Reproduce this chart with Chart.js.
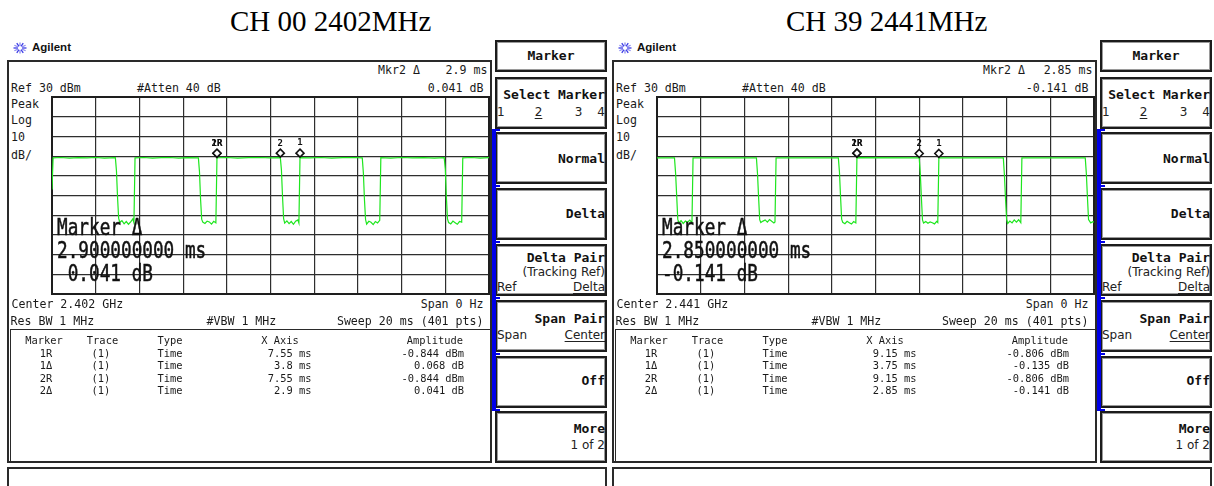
<!DOCTYPE html>
<html>
<head>
<meta charset="utf-8">
<script src="https://cdn.jsdelivr.net/npm/chart.js@4/dist/chart.umd.min.js"></script>
<style>
  html, body { margin: 0; padding: 0; background: #fff; }
  body { width: 1214px; height: 486px; position: relative; overflow: hidden; }
  .abs { position: absolute; white-space: pre; }
  .panel { position: absolute; top: 0; width: 607px; height: 486px; }
  .box { position: absolute; box-sizing: border-box; border: 2px solid #2a2a2a; background: transparent; }
  .key { position: absolute; box-sizing: border-box; border: 2px solid #1c1c1c; background: #fff;
         box-shadow: inset 1px 1px 0 #9a9a9a, inset -1px -1px 0 #9a9a9a; }
  .blue { position: absolute; background: #0000e8; }
</style>
</head>
<body>
<script>
// Zero-span sweep traces, 0..20 ms, level in dBm
const ch00Time = [
  0.00, 0.05, 0.40, 0.80, 1.20, 1.60, 2.00, 2.40, 2.90,
  2.95, 3.00, 3.05, 3.10, 3.20, 3.30, 3.40, 3.50, 3.60, 3.70, 3.75, 3.80,
  4.20, 4.60, 5.00, 5.40, 5.80, 6.20, 6.70,
  6.75, 6.80, 6.85, 6.90, 7.00, 7.10, 7.20, 7.30, 7.40, 7.50, 7.55,
  8.00, 8.50, 9.00, 9.50, 10.00, 10.45,
  10.50, 10.55, 10.60, 10.65, 10.75, 10.85, 10.95, 11.05, 11.15, 11.25, 11.30, 11.35,
  11.80, 12.30, 12.80, 13.30, 13.80, 14.20,
  14.25, 14.30, 14.35, 14.40, 14.50, 14.60, 14.70, 14.80, 14.90, 15.00, 15.05,
  15.50, 16.00, 16.50, 17.00, 17.50, 17.95,
  18.00, 18.05, 18.10, 18.15, 18.25, 18.35, 18.45, 18.55, 18.65, 18.75, 18.80,
  19.20, 19.60, 20.00
];
const ch00Level = [
  -17.0, -0.9, -0.7, -1.0, -0.8, -0.9, -0.7, -1.0, -0.8,
  -7.5, -21.0, -31.5, -33.6, -32.8, -34.4, -33.2, -34.6, -33.4, -31.9, -33.8, -0.9,
  -0.7, -1.0, -0.8, -0.7, -1.0, -0.8, -0.9,
  -8.0, -22.0, -32.0, -33.5, -34.2, -33.0, -33.4, -34.5, -33.1, -33.9, -0.844,
  -0.7, -1.0, -0.8, -0.7, -0.9, -0.803,
  -7.0, -20.5, -31.8, -34.0, -32.9, -34.3, -33.2, -34.6, -33.0, -32.4, -34.0, -0.776,
  -0.9, -0.7, -1.0, -0.8, -0.7, -0.9,
  -8.5, -22.0, -32.2, -34.5, -33.1, -33.6, -34.8, -33.2, -33.9, -32.6, -0.8,
  -1.0, -0.7, -0.9, -0.8, -1.0, -0.8,
  -6.5, -21.0, -31.9, -33.7, -34.4, -33.0, -33.8, -34.6, -33.2, -33.5, -0.9,
  -0.7, -1.0, -0.8
];

const ch39Time = [
  0.00, 0.80,
  0.85, 0.90, 0.95, 1.00, 1.10, 1.20, 1.30, 1.40, 1.50, 1.60, 1.65,
  4.55,
  4.60, 4.65, 4.70, 4.75, 4.85, 4.95, 5.05, 5.15, 5.25, 5.35, 5.40, 5.45,
  8.30,
  8.35, 8.40, 8.45, 8.50, 8.60, 8.70, 8.80, 8.90, 9.00, 9.10, 9.15,
  12.00,
  12.05, 12.10, 12.15, 12.20, 12.30, 12.40, 12.50, 12.60, 12.70, 12.80, 12.85, 12.90,
  15.85,
  15.90, 15.95, 16.00, 16.05, 16.15, 16.25, 16.35, 16.45, 16.55, 16.65, 16.70,
  19.60,
  19.65, 19.70, 19.75, 19.85, 19.95, 20.00
];
const ch39Level = [
  -0.9, -0.9,
  -8.5, -20.0, -32.0, -33.9, -32.8, -34.2, -33.0, -33.6, -32.5, -33.8, -0.9,
  -0.9,
  -9.0, -21.0, -32.3, -33.7, -33.0, -32.4, -33.5, -32.2, -33.1, -33.9, -33.4, -0.9,
  -0.9,
  -8.0, -20.5, -32.0, -33.6, -34.3, -33.1, -33.8, -34.5, -33.2, -33.9, -0.806,
  -0.947,
  -8.8, -21.0, -32.4, -34.0, -33.2, -34.1, -33.4, -33.8, -34.4, -33.1, -33.7, -0.941,
  -0.9,
  -9.5, -21.5, -32.0, -34.2, -33.0, -33.9, -32.4, -33.5, -32.3, -33.8, -0.9,
  -0.9,
  -9.0, -21.0, -32.2, -33.9, -33.3, -33.6
];

// Marker table rows: 1R, 1Δ, 2R, 2Δ (X in ms, amplitude in dBm / dB)
const markerNames = ['1R', '1Δ', '2R', '2Δ'];
const markerRefOf = [-1, 0, -1, 2];
const ch00MarkerX = [7.55, 3.8, 7.55, 2.9];
const ch00MarkerAmp = [-0.844, 0.068, -0.844, 0.041];
const ch39MarkerX = [9.15, 3.75, 9.15, 2.85];
const ch39MarkerAmp = [-0.806, -0.135, -0.806, -0.141];

const titles = ['CH 00 2402MHz', 'CH 39 2441MHz'];
const centerFreqs = ['2.402 GHz', '2.441 GHz'];

// Axis settings of the analyser screen
const sweepMs = [0, 20];
const timeStep = 2;
const refLevel = 30;
const dbPerDiv = 10;
const divisions = 10;

const TRACE = '#1ee61e';
const MONO = '"DejaVu Sans Mono", monospace';
const SANS = '"DejaVu Sans", sans-serif';
const PW = 607;

function txt(parent, s, x, cy, o) {
  o = o || {};
  const d = document.createElement('div');
  d.className = 'abs';
  d.textContent = s;
  const size = o.size || 11.6;
  const lh = Math.round(size * 1.3);
  d.style.font = (o.weight || 'normal') + ' ' + size + 'px ' + (o.family || MONO);
  d.style.lineHeight = lh + 'px';
  d.style.top = (cy - lh / 2) + 'px';
  d.style.color = o.color || '#1a1a1a';
  if (o.stroke) d.style.webkitTextStroke = o.stroke + 'px ' + (o.color || '#1a1a1a');
  const align = o.align || 'left';
  let tr = '';
  if (align === 'left') { d.style.left = x + 'px'; d.style.transformOrigin = 'left center'; }
  else if (align === 'right') { d.style.right = ((o.pw || PW) - x) + 'px'; d.style.transformOrigin = 'right center'; }
  else { d.style.left = x + 'px'; tr = 'translateX(-50%) '; d.style.transformOrigin = 'center'; }
  if (o.sx) tr += 'scaleX(' + o.sx + ')';
  if (tr) d.style.transform = tr;
  if (o.underline) { d.style.textDecoration = 'underline'; d.style.textUnderlineOffset = '2px'; }
  parent.appendChild(d);
  return d;
}

function rect(parent, cls, x, y, w, h) {
  const d = document.createElement('div');
  d.className = cls;
  d.style.left = x + 'px'; d.style.top = y + 'px';
  d.style.width = w + 'px'; d.style.height = h + 'px';
  parent.appendChild(d);
  return d;
}

function logo(parent, cx, cy) {
  const ns = 'http://www.w3.org/2000/svg';
  const svg = document.createElementNS(ns, 'svg');
  svg.setAttribute('width', 18); svg.setAttribute('height', 14);
  svg.style.position = 'absolute';
  svg.style.left = (cx - 9) + 'px'; svg.style.top = (cy - 7) + 'px';
  for (let k = 0; k < 12; k++) {
    const a = k * Math.PI / 6;
    const l = document.createElementNS(ns, 'line');
    l.setAttribute('x1', 9 + Math.cos(a) * 2); l.setAttribute('y1', 7 + Math.sin(a) * 2);
    l.setAttribute('x2', 9 + Math.cos(a) * 6.5); l.setAttribute('y2', 7 + Math.sin(a) * 5.5);
    l.setAttribute('stroke', k % 2 ? '#8c8cf0' : '#3c3ce6');
    l.setAttribute('stroke-width', 1.3);
    svg.appendChild(l);
  }
  parent.appendChild(svg);
}

const fmtAmp = (v, isRef) => (v < 0 ? '-' : '') + Math.abs(v).toFixed(3) + (isRef ? ' dBm' : ' dB');

// Draws the marker diamonds with their labels above the trace
const markerPlugin = {
  id: 'markers',
  afterDatasetsDraw(chart, args, opts) {
    const { ctx, scales } = chart;
    ctx.save();
    opts.times.forEach((t, i) => {
      const x = scales.x.getPixelForValue(t);
      const y = scales.y.getPixelForValue(opts.levels[i]) - 4.5;
      ctx.beginPath();
      ctx.moveTo(x, y - 4); ctx.lineTo(x + 4, y); ctx.lineTo(x, y + 4); ctx.lineTo(x - 4, y);
      ctx.closePath();
      ctx.fillStyle = '#fff'; ctx.fill();
      ctx.lineWidth = 1.6; ctx.strokeStyle = '#111'; ctx.stroke();
      ctx.fillStyle = '#111';
      ctx.font = 'bold 9px ' + MONO;
      ctx.textAlign = 'center'; ctx.textBaseline = 'middle';
      ctx.fillText(opts.tags[i], x, y - 10);
    });
    ctx.restore();
  }
};

// Heavier outline around the graticule
const framePlugin = {
  id: 'frame',
  beforeDatasetsDraw(chart) {
    const { ctx, chartArea: a } = chart;
    ctx.save();
    ctx.lineWidth = 2; ctx.strokeStyle = '#1e1e1e';
    ctx.strokeRect(a.left, a.top, a.right - a.left, a.bottom - a.top);
    ctx.restore();
  }
};

function buildPanel(idx, offsetX, times, levels, mX, mAmp) {
  const p = document.createElement('div');
  p.className = 'panel';
  p.style.left = offsetX + 'px';
  document.body.appendChild(p);

  logo(p, 19.5, 47.5);
  txt(p, 'Agilent', 32, 47.5, { family: '"Liberation Sans", Arial, sans-serif', weight: 'bold', size: 11.5, color: '#111' });

  // screen frame
  rect(p, 'box', 7, 60, 485, 403);

  // active marker readout
  const act = 3;
  txt(p, 'Mkr2 Δ', 378, 70);
  txt(p, mX[act] + ' ms', 487.5, 70, { align: 'right' });
  txt(p, fmtAmp(mAmp[act], false), 483.5, 88, { align: 'right' });

  txt(p, 'Ref ' + refLevel + ' dBm', 11, 88);
  txt(p, '#Atten 40 dB', 137, 88);
  txt(p, 'Peak', 11, 104);
  txt(p, 'Log', 11, 120.5);
  txt(p, String(dbPerDiv), 11, 137.5);
  txt(p, 'dB/', 11, 155);

  // graticule + trace
  const wrap = document.createElement('div');
  wrap.style.cssText = 'position:absolute;left:51px;top:96px;width:439px;height:199px;';
  const cv = document.createElement('canvas');
  cv.width = 439; cv.height = 199;
  cv.style.width = '439px'; cv.style.height = '199px';
  wrap.appendChild(cv);
  p.appendChild(wrap);

  const mkTimes = [], mkLevels = [], mkTags = [];
  markerNames.forEach((n, i) => {
    const r = markerRefOf[i];
    if (r < 0) { mkTimes.push(mX[i]); mkLevels.push(mAmp[i]); mkTags.push(n); }
    else { mkTimes.push(mX[r] + mX[i]); mkLevels.push(mAmp[r] + mAmp[i]); mkTags.push(n.replace('Δ', '')); }
  });

  const gridOpts = { color: '#2e2e2e', lineWidth: 1.2, drawTicks: false, tickLength: 0 };
  new Chart(cv.getContext('2d'), {
    type: 'line',
    data: {
      datasets: [{
        data: times.map((t, i) => ({ x: t, y: levels[i] })),
        borderColor: TRACE, borderWidth: 1.2, pointRadius: 0, tension: 0, fill: false
      }]
    },
    options: {
      responsive: false, animation: false, devicePixelRatio: 1,
      layout: { padding: 1 },
      plugins: {
        legend: { display: false }, tooltip: { enabled: false },
        markers: { times: mkTimes, levels: mkLevels, tags: mkTags }
      },
      scales: {
        x: { type: 'linear', min: sweepMs[0], max: sweepMs[1],
             ticks: { display: false, stepSize: timeStep }, grid: gridOpts, border: { display: false } },
        y: { type: 'linear', min: refLevel - dbPerDiv * divisions, max: refLevel,
             ticks: { display: false, stepSize: dbPerDiv }, grid: gridOpts, border: { display: false } }
      }
    },
    plugins: [framePlugin, markerPlugin]
  });

  // large delta readout over the graticule
  const big = { size: 23, sx: 0.77, color: '#111', stroke: 0.5 };
  txt(p, 'Marker Δ', 57, 226.5, big);
  txt(p, mX[act].toFixed(9) + ' ms', 57, 250, big);
  txt(p, (mAmp[act] < 0 ? '-' : ' ') + Math.abs(mAmp[act]).toFixed(3) + ' dB', 57, 272.5, big);

  // sweep settings
  txt(p, 'Center ' + centerFreqs[idx], 11.5, 304.5);
  txt(p, 'Span 0 Hz', 483.5, 304.5, { align: 'right' });
  txt(p, 'Res BW 1 MHz', 10.5, 321);
  txt(p, '#VBW 1 MHz', 206.5, 321);
  txt(p, 'Sweep 20 ms (401 pts)', 483.5, 321, { align: 'right' });

  // marker table
  rect(p, 'box', 10, 329, 481, 134).style.borderWidth = '1.5px';
  const tf = { size: 10.4 };
  txt(p, 'Marker', 44, 340, Object.assign({ align: 'center' }, tf));
  txt(p, 'Trace', 102.5, 340, Object.assign({ align: 'center' }, tf));
  txt(p, 'Type', 170, 340, Object.assign({ align: 'center' }, tf));
  txt(p, 'X Axis', 280, 340, Object.assign({ align: 'center' }, tf));
  txt(p, 'Amplitude', 463, 340, Object.assign({ align: 'right' }, tf));
  markerNames.forEach((n, i) => {
    const cy = 352.7 + 12.5 * i;
    txt(p, n, 46, cy, Object.assign({ align: 'center' }, tf));
    txt(p, '(1)', 101, cy, Object.assign({ align: 'center' }, tf));
    txt(p, 'Time', 170, cy, Object.assign({ align: 'center' }, tf));
    txt(p, mX[i] + ' ms', 311.5, cy, Object.assign({ align: 'right' }, tf));
    txt(p, fmtAmp(mAmp[i], markerRefOf[i] < 0), 464, cy, Object.assign({ align: 'right' }, tf));
  });

  // softkey menu
  const kb = { family: MONO, weight: 'bold', size: 13, color: '#111' };
  const kn = { family: SANS, size: 12, color: '#222' };
  rect(p, 'key', 495, 40, 112, 32);
  txt(p, 'Marker', 551, 55.5, Object.assign({ align: 'center' }, kb));
  const tops = [76.5, 132.3, 188.1, 243.9, 299.7, 355.5, 411.3];
  tops.forEach(t => rect(p, 'key', 495, t, 112, 52));
  rect(p, 'blue', 492, 129, 3.6, 281);
  [129, 185, 241, 297, 353, 408.5].forEach(y => rect(p, 'blue', 492, y, 8, 2));

  txt(p, 'Select Marker', 605, tops[0] + 18.3, Object.assign({ align: 'right' }, kb));
  txt(p, '1', 497, tops[0] + 35, kn);
  txt(p, '2', 538.5, tops[0] + 35, Object.assign({ align: 'center', underline: true }, kn));
  txt(p, '3', 578.5, tops[0] + 35, Object.assign({ align: 'center' }, kn));
  txt(p, '4', 605, tops[0] + 35, Object.assign({ align: 'right' }, kn));
  txt(p, 'Normal', 605, tops[1] + 26, Object.assign({ align: 'right' }, kb));
  txt(p, 'Delta', 605, tops[2] + 25.5, Object.assign({ align: 'right' }, kb));
  txt(p, 'Delta Pair', 605, tops[3] + 13.3, Object.assign({ align: 'right' }, kb));
  txt(p, '(Tracking Ref)', 605, tops[3] + 28.3, Object.assign({ align: 'right' }, kn));
  txt(p, 'Ref', 497, tops[3] + 43, kn);
  txt(p, 'Delta', 605, tops[3] + 43, Object.assign({ align: 'right', underline: true }, kn));
  txt(p, 'Span Pair', 605, tops[4] + 19, Object.assign({ align: 'right' }, kb));
  txt(p, 'Span', 497, tops[4] + 35.5, kn);
  txt(p, 'Center', 605, tops[4] + 35.5, Object.assign({ align: 'right', underline: true }, kn));
  txt(p, 'Off', 605, tops[5] + 25, Object.assign({ align: 'right' }, kb));
  txt(p, 'More', 605, tops[6] + 17, Object.assign({ align: 'right' }, kb));
  txt(p, '1 of 2', 605, tops[6] + 33.5, Object.assign({ align: 'right' }, kn));

  // status line box
  rect(p, 'box', 7, 467, 600, 26);
}

const titleLeft = [230, 786];
titles.forEach((t, i) => txt(document.body, t, titleLeft[i], 21,
  { family: '"Liberation Serif", "Times New Roman", serif', size: 29, color: '#000' }));

buildPanel(0, 0, ch00Time, ch00Level, ch00MarkerX, ch00MarkerAmp);
buildPanel(1, 605, ch39Time, ch39Level, ch39MarkerX, ch39MarkerAmp);
</script>
</body>
</html>
